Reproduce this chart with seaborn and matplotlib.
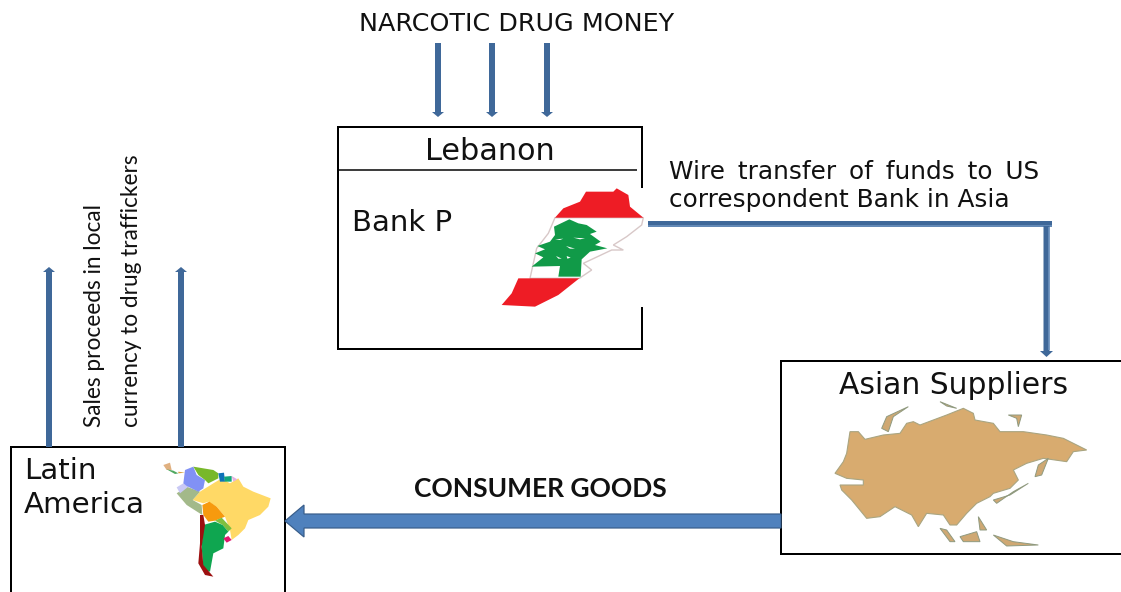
import matplotlib
matplotlib.use("Agg")
import matplotlib.pyplot as plt
from matplotlib.patches import Polygon, Rectangle, FancyArrow
import seaborn as sns

TITLE = "NARCOTIC DRUG MONEY"
BANK_COUNTRY = "Lebanon"
BANK = "Bank P"
WIRE_1 = "Wire \u2009transfer \u2009of \u2009funds \u2009to \u2009US"
WIRE_2 = "correspondent Bank in Asia"
SALES = "Sales proceeds in local\ncurrency to drug traffickers"
GOODS = "CONSUMER GOODS"
SUPPLIERS = "Asian Suppliers"
LATIN = "Latin\nAmerica"

LEB_RED_TOP = [(225,143),(250,115),(300,95),(318,65),(400,65),(410,55),(445,75),(450,110),(490,143)]
LEB_WHITE = [(225,143),(490,143),(485,165),(440,200),(400,225),(430,240),(395,240),(310,280),(335,300),(298,325),(150,325),(170,235),(205,190)]
LEB_RED_BOT = [(115,325),(298,325),(235,375),(165,410),(65,405),(95,370)]
CEDAR = [(268,148),(295,160),(320,165),(350,185),(330,192),(362,215),(345,225),(382,235),(330,245),(305,268),(302,320),(235,320),(240,288),(155,290),(190,262),(165,250),(195,238),(172,228),(210,215),(225,195),(222,170)]
CEDAR_SLITS = [
    [(225,208),(250,206),(240,210)],
    [(280,203),(315,205),(300,208)],
    [(258,228),(285,236),(270,236)],
    [(228,258),(245,266),(235,266)],
    [(260,258),(272,263),(262,266)],
]

SOUTH_AMERICA = {
    "#ffd966": [(128,150),(150,125),(190,100),(215,85),(240,100),(265,85),(280,110),(310,125),(362,145),(355,170),(330,195),(295,210),(285,235),(265,255),(245,270),(240,240),(225,200),(200,170),(175,155),(160,160)],
    "#f79a0e": [(157,165),(178,155),(200,170),(225,200),(195,212),(175,215),(160,195)],
    "#7fbf3f": [(195,212),(215,203),(245,235),(235,245),(218,225)],
    "#0fa650": [(160,225),(195,215),(218,225),(235,245),(225,255),(220,295),(190,310),(180,365),(160,360),(155,290)],
    "#e0186e": [(220,265),(235,258),(245,270),(230,278)],
    "#9c1010": [(150,195),(160,195),(165,225),(155,290),(160,345),(190,380),(165,375),(145,340),(150,280)],
    "#a3b98a": [(80,130),(110,110),(150,125),(128,150),(155,165),(157,195),(110,165)],
    "#c9c9f5": [(80,112),(100,100),(115,110),(90,130)],
    "#8191f5": [(100,100),(105,60),(130,50),(140,75),(165,90),(160,115),(145,125),(110,108)],
    "#78b82a": [(130,50),(190,60),(205,70),(205,85),(175,100),(165,90),(145,75)],
    "#0f72b8": [(205,70),(222,68),(225,95),(210,95)],
    "#12a67a": [(222,80),(245,78),(245,95),(225,95)],
    "#e5b0e0": [(245,78),(262,88),(250,95)],
    "#e0b080": [(40,45),(60,38),(65,60),(50,60)],
    "#4fa860": [(50,58),(70,62),(85,70),(75,72)],
    "#d9a040": [(85,65),(105,68),(85,70)],
}

ASIA = [(165,220),(190,185),(200,160),(210,95),(235,95),(255,118),(310,105),(360,100),(380,70),(400,65),(420,75),(500,45),(550,25),(580,40),(585,60),(640,70),(660,95),(730,95),(800,105),(850,115),(920,150),(880,155),(860,185),(790,175),(740,190),(700,210),(715,240),(690,265),(640,280),(630,290),(590,310),(560,340),(530,375),(510,375),(490,345),(440,340),(415,380),(395,345),(345,320),(300,350),(260,355),(215,300),(185,270),(180,255),(250,255),(250,240),(200,235)]
ASIA_ISLANDS = [
    [(305,85),(320,50),(385,20),(340,50),(325,95)],
    [(480,5),(530,25),(500,18)],
    [(685,45),(725,45),(715,80),(710,55)],
    [(765,230),(775,195),(805,175),(785,225)],
    [(640,300),(690,285),(745,250),(700,275),(650,310)],
    [(480,385),(500,390),(525,425),(510,425)],
    [(540,410),(590,395),(600,425),(550,425)],
    [(595,350),(620,390),(600,390)],
    [(640,405),(700,425),(775,435),(680,438)],
]

DARK = "#3f6899"
LIGHT = "#6f94c0"
FILL = "#4f81bd"
EDGE = "#385d8a"

sns.set_theme(style="white")
fig = plt.figure(figsize=(11.21, 5.92), dpi=100, facecolor="white")
ax = fig.add_axes([0, 0, 1, 1])
ax.set_xlim(0, 1121)
ax.set_ylim(592, 0)
ax.axis("off")

def px(v):
    return v * 0.72

def leb(pts):
    return [(x / 3 + 480, y / 3 + 170) for x, y in pts]

def sam(pts):
    return [(x / 3 + 150, y / 3 + 450) for x, y in pts]

def asi(pts):
    return [(x / 3 + 780, y / 3 + 400) for x, y in pts]

def box(x0, y0, x1, y1):
    ax.add_patch(Rectangle((x0, y0), x1 - x0, y1 - y0, fc="white", ec="black", lw=px(2), zorder=1))

def arrow(x0, y0, x1, y1, width=6, head=12, length=5):
    ax.add_patch(FancyArrow(x0, y0, x1 - x0, y1 - y0, width=width, head_width=head, head_length=length,
                            length_includes_head=True, fc=DARK, ec="none", zorder=3))

def seg(xs, ys, color, w):
    sns.lineplot(x=xs, y=ys, sort=False, estimator=None, color=color, lw=px(w), ax=ax, zorder=3,
                 solid_capstyle="butt")

# boxes
box(338, 127, 642, 349)
ax.add_patch(Rectangle((640, 188), 5, 119, fc="white", ec="none", zorder=2))
seg([338, 637], [170, 170], "black", 1.5)
box(781, 361, 1130, 554)
box(11, 447, 285, 600)

# arrows
for x in (438, 492, 547):
    arrow(x, 43, x, 117)
for x in (49, 181):
    arrow(x, 447, x, 267)
seg([648, 1052], [223.7, 223.7], DARK, 6)
seg([648, 1052], [226, 226], LIGHT, 1.5)
arrow(1046.5, 226, 1046.5, 357, head=13, length=6)
seg([1048.5, 1048.5], [227, 350], LIGHT, 1.5)
ax.add_patch(FancyArrow(781, 521, 285 - 781, 0, width=14, head_width=32, head_length=19,
                        length_includes_head=True, fc=FILL, ec=EDGE, lw=px(1.2), zorder=3))

# maps
ax.add_patch(Polygon(leb(LEB_WHITE), fc="white", ec="#d8c8c8", lw=1, zorder=4))
ax.add_patch(Polygon(leb(LEB_RED_TOP), fc="#ee1c25", ec="none", zorder=5))
ax.add_patch(Polygon(leb(LEB_RED_BOT), fc="#ee1c25", ec="none", zorder=5))
ax.add_patch(Polygon(leb(CEDAR), fc="#119a48", ec="none", zorder=5))
for pts in CEDAR_SLITS:
    ax.add_patch(Polygon(leb(pts), fc="white", ec="none", zorder=6))
for color, pts in SOUTH_AMERICA.items():
    ax.add_patch(Polygon(sam(pts), fc=color, ec="none", zorder=4))
ax.add_patch(Polygon(asi(ASIA), fc="#d8ab6f", ec="#a9a581", lw=0.8, zorder=4))
for pts in ASIA_ISLANDS:
    ax.add_patch(Polygon(asi(pts), fc="#cfa873", ec="#8f9a80", lw=0.7, zorder=4))

# text
ink = "#111111"
ax.text(517, 24, TITLE, ha="center", va="center", fontsize=18.3, color=ink, family="DejaVu Sans")
ax.text(490, 151, BANK_COUNTRY, ha="center", va="center", fontsize=21.8, color=ink, family="DejaVu Sans")
ax.text(352, 223, BANK, ha="left", va="center", fontsize=21, color=ink, family="DejaVu Sans")
ax.text(669, 172, WIRE_1, ha="left", va="center", fontsize=17.8, color=ink, family="DejaVu Sans")
ax.text(669, 200, WIRE_2, ha="left", va="center", fontsize=17.8, color=ink, family="DejaVu Sans")
ax.text(113, 427, SALES, ha="center", va="bottom", ma="left", rotation=90, fontsize=16.3, linespacing=1.9, color=ink, family="Lato")
ax.text(540, 489, GOODS, ha="center", va="center", fontsize=19, fontweight="bold", color=ink, family="Lato")
ax.text(954, 386, SUPPLIERS, ha="center", va="center", fontsize=21.4, color=ink, family="DejaVu Sans")
ax.text(24, 488, LATIN, ha="left", va="center", fontsize=21.2, linespacing=1.3, color=ink, family="DejaVu Sans")

fig.savefig("out.png", dpi=100, facecolor="white")
